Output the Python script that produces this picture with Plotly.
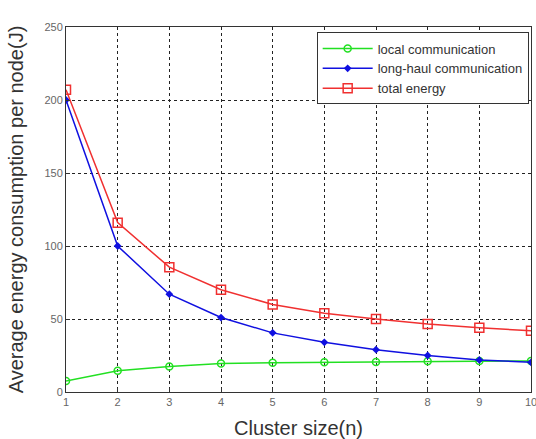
import plotly.graph_objects as go

cluster_size = [1, 2, 3, 4, 5, 6, 7, 8, 9, 10]
local_comm = [7.5, 14.5, 17.5, 19.5, 20, 20.3, 20.6, 21, 21.2, 21.3]
long_haul = [200, 100, 67, 51, 40.5, 34, 29, 25, 22, 20.3]
total_energy = [207, 116, 85.5, 70, 60, 54, 50, 46.5, 44, 42]

FONT = "Liberation Sans, Arial, sans-serif"

fig = go.Figure()
fig.add_trace(go.Scatter(x=cluster_size, y=local_comm, mode="lines+markers",
                         name="local communication",
                         line=dict(color="#22e022", width=1.5),
                         marker=dict(symbol="circle-open", size=7, color="#22e022", line=dict(width=1.5))))
fig.add_trace(go.Scatter(x=cluster_size, y=long_haul, mode="lines+markers",
                         name="long-haul communication",
                         line=dict(color="#1010e0", width=1.5),
                         marker=dict(symbol="diamond", size=6, color="#1010e0")))
fig.add_trace(go.Scatter(x=cluster_size, y=total_energy, mode="lines+markers",
                         name="total energy",
                         line=dict(color="#f03030", width=1.5),
                         marker=dict(symbol="square-open", size=9, color="#f03030", line=dict(width=1.5))))

axis_common = dict(showline=True, linecolor="#333333", linewidth=1, mirror=True,
                   showgrid=True, gridcolor="#222222", griddash="dot", gridwidth=1,
                   zeroline=False, ticks="inside", ticklen=4, tickcolor="#333333",
                   ticklabeloverflow="allow", automargin=False,
                   tickfont=dict(family=FONT, size=11, color="#666666"))

fig.update_xaxes(range=[1, 10], tickvals=cluster_size, **axis_common,
                 title=dict(text="Cluster size(n)",
                            font=dict(family=FONT, size=20, color="#333333")))
fig.update_yaxes(range=[0, 250], tickvals=[0, 50, 100, 150, 200, 250], **axis_common,
                 title=dict(text="Average energy consumption per node(J)",
                            font=dict(family=FONT, size=20, color="#333333")))

fig.update_layout(
    width=536, height=439,
    margin=dict(l=66, r=5, t=27, b=47),
    paper_bgcolor="white", plot_bgcolor="white",
    showlegend=True,
    legend=dict(x=0.995, y=0.985, xanchor="right", yanchor="top",
                bgcolor="white", bordercolor="#333333", borderwidth=1,
                font=dict(family=FONT, size=13, color="#333333"),
                tracegroupgap=0, itemwidth=50),
)

fig.write_html("out.html")
